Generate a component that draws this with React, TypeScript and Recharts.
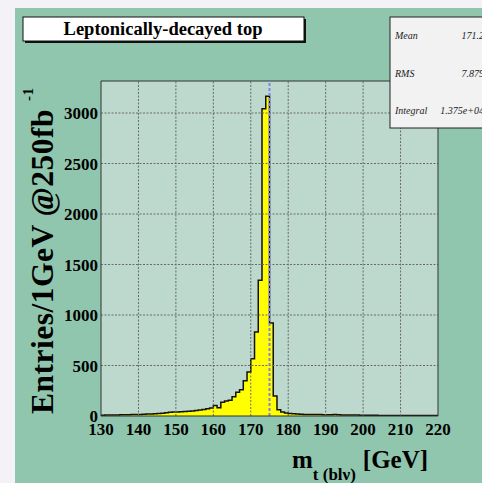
import React from "react";
import {
  ComposedChart,
  Area,
  XAxis,
  YAxis,
  CartesianGrid,
  ReferenceLine,
} from "recharts";

// ---- data ----
const BIN_START = 130; // GeV, lower edge of first bin
const BIN_WIDTH = 1; // GeV
const counts = [
  8, 9, 10, 10, 11, 12, 12, 13, 14, 15,
  16, 18, 19, 20, 22, 24, 27, 32, 38, 40,
  40, 42, 45, 48, 50, 55, 60, 64, 72, 78,
  105, 82, 135, 148, 155, 190, 235, 260, 350, 436,
  568, 832, 1343, 3043, 3165, 920, 198, 63, 40, 30,
  25, 22, 20, 18, 16, 16, 15, 14, 14, 13,
  12, 13, 15, 12, 11, 10, 10, 9, 9, 8,
  8, 7, 7, 7, 6, 6, 6, 6, 5, 5,
  5, 5, 5, 4, 4, 4, 4, 4, 4, 4,
];
const xMajorTicks = [130, 140, 150, 160, 170, 180, 190, 200, 210, 220];
const xMinorTicks = [
  130, 132, 134, 136, 138, 140, 142, 144, 146, 148, 150, 152, 154, 156, 158,
  160, 162, 164, 166, 168, 170, 172, 174, 176, 178, 180, 182, 184, 186, 188,
  190, 192, 194, 196, 198, 200, 202, 204, 206, 208, 210, 212, 214, 216, 218, 220,
];
const yMajorTicks = [0, 500, 1000, 1500, 2000, 2500, 3000];
const yMinorTicks = [
  0, 100, 200, 300, 400, 500, 600, 700, 800, 900, 1000, 1100, 1200, 1300,
  1400, 1500, 1600, 1700, 1800, 1900, 2000, 2100, 2200, 2300, 2400, 2500,
  2600, 2700, 2800, 2900, 3000, 3100, 3200, 3300,
];
const xDomain = [130, 220];
const yDomain = [0, 3317];
const topMassLine = 175;
const titleText = "Leptonically-decayed top";
const statNames = ["Mean", "RMS", "Integral"];
const statValues = ["171.2", "7.879", "1.375e+04"];

// histogram as step points (last edge repeats last value)
const histData = counts
  .map((v, i) => ({ x: BIN_START + i * BIN_WIDTH, v }))
  .concat([{ x: BIN_START + counts.length * BIN_WIDTH, v: counts[counts.length - 1] }]);

const SERIF = '"Liberation Serif", "Times New Roman", serif';
const FRAME = "#333";

export default function App() {
  const tickFont = { fontFamily: SERIF, fontWeight: 700, fontSize: 17, fill: "#000" };
  const statY = [38.5, 76.5, 114];
  return (
    <div
      style={{
        position: "fixed",
        left: 0,
        top: 0,
        width: 482,
        height: 483,
        background: "#f4f2f7",
        overflow: "hidden",
      }}
    >
      <div
        style={{
          position: "absolute",
          left: 15,
          top: 8,
          width: 467,
          height: 475,
          background: "#90c6ae",
        }}
      />
      <div style={{ position: "absolute", left: 0, top: 0 }}>
        <ComposedChart
          width={482}
          height={483}
          data={histData}
          margin={{ top: 81, right: 44, bottom: 37, left: 41 }}
        >
          <CartesianGrid
            xAxisId="x"
            yAxisId="y"
            fill="#bdd8cd"
            horizontal={false}
            vertical={false}
          />
          <XAxis
            xAxisId="x"
            dataKey="x"
            type="number"
            domain={xDomain}
            ticks={xMajorTicks}
            allowDataOverflow
            interval={0}
            height={30}
            tickLine={false}
            axisLine={false}
            tickSize={0}
            tickMargin={7}
            tick={tickFont}
          />
          <YAxis
            yAxisId="y"
            type="number"
            domain={yDomain}
            ticks={yMajorTicks}
            allowDataOverflow
            interval={0}
            width={60}
            tickLine={false}
            axisLine={false}
            tickSize={0}
            tickMargin={3}
            tick={tickFont}
          />
          <Area
            xAxisId="x"
            yAxisId="y"
            dataKey="v"
            type="stepAfter"
            baseValue={0}
            fill="#ffff00"
            fillOpacity={1}
            stroke="#111"
            strokeWidth={1.5}
            isAnimationActive={false}
            dot={false}
            activeDot={false}
          />
          {xMajorTicks.slice(1, -1).map((t) => (
            <ReferenceLine
              key={"gx" + t}
              xAxisId="x"
              yAxisId="y"
              x={t}
              stroke="#6a6a6a"
              strokeDasharray="2 1.5"
              strokeWidth={1}
            />
          ))}
          {yMajorTicks.slice(1).map((t) => (
            <ReferenceLine
              key={"gy" + t}
              xAxisId="x"
              yAxisId="y"
              y={t}
              stroke="#6a6a6a"
              strokeDasharray="2 1.5"
              strokeWidth={1}
            />
          ))}
          <ReferenceLine
            xAxisId="x"
            yAxisId="y"
            x={topMassLine}
            stroke="#8080f0"
            strokeWidth={2}
            strokeDasharray="3 2"
          />
          {/* frame with inward ticks */}
          <XAxis xAxisId="xbM" type="number" domain={xDomain} ticks={xMajorTicks} allowDataOverflow interval={0}
            mirror tick={false} tickSize={9} tickLine={{ stroke: FRAME }} axisLine={{ stroke: FRAME }} />
          <XAxis xAxisId="xbm" type="number" domain={xDomain} ticks={xMinorTicks} allowDataOverflow interval={0}
            mirror tick={false} tickSize={5} tickLine={{ stroke: FRAME }} axisLine={false} />
          <XAxis xAxisId="xtM" orientation="top" type="number" domain={xDomain} ticks={xMajorTicks} allowDataOverflow interval={0}
            mirror tick={false} tickSize={9} tickLine={{ stroke: FRAME }} axisLine={{ stroke: FRAME }} />
          <XAxis xAxisId="xtm" orientation="top" type="number" domain={xDomain} ticks={xMinorTicks} allowDataOverflow interval={0}
            mirror tick={false} tickSize={5} tickLine={{ stroke: FRAME }} axisLine={false} />
          <YAxis yAxisId="ylM" type="number" domain={yDomain} ticks={yMajorTicks} allowDataOverflow interval={0}
            mirror tick={false} tickSize={10} tickLine={{ stroke: FRAME }} axisLine={{ stroke: FRAME }} />
          <YAxis yAxisId="ylm" type="number" domain={yDomain} ticks={yMinorTicks} allowDataOverflow interval={0}
            mirror tick={false} tickSize={5} tickLine={{ stroke: FRAME }} axisLine={false} />
          <YAxis yAxisId="yrM" orientation="right" type="number" domain={yDomain} ticks={yMajorTicks} allowDataOverflow interval={0}
            mirror tick={false} tickSize={10} tickLine={{ stroke: FRAME }} axisLine={{ stroke: FRAME }} />
          <YAxis yAxisId="yrm" orientation="right" type="number" domain={yDomain} ticks={yMinorTicks} allowDataOverflow interval={0}
            mirror tick={false} tickSize={5} tickLine={{ stroke: FRAME }} axisLine={false} />
        </ComposedChart>
      </div>
      <svg
        width={482}
        height={483}
        style={{ position: "absolute", left: 0, top: 0, pointerEvents: "none" }}
      >
        {/* title box */}
        <rect x={25} y={19} width={281} height={24} fill="#111" />
        <rect x={23} y={17} width={281} height={24} fill="#fff" stroke="#111" strokeWidth={1} />
        <text
          x={163}
          y={34.5}
          textAnchor="middle"
          fontFamily={SERIF}
          fontWeight={700}
          fontSize={18.5}
          fill="#000"
        >
          {titleText}
        </text>
        {/* stats box */}
        <rect x={390} y={17} width={100} height={111} fill="#f2f2f2" stroke="#222" strokeWidth={1} />
        {statNames.map((n, i) => (
          <text key={n} x={395} y={statY[i]} fontFamily={SERIF} fontStyle="italic" fontSize={10} fill="#222">
            {n}
          </text>
        ))}
        {statValues.map((v, i) => (
          <text key={v} x={484} y={statY[i]} textAnchor="end" fontFamily={SERIF} fontStyle="italic" fontSize={10} fill="#222">
            {v}
          </text>
        ))}
        {/* y-axis title */}
        <text
          x={53}
          y={414}
          transform="rotate(-90 53 414)"
          fontFamily={SERIF}
          fontWeight={700}
          fontSize={31.5}
          letterSpacing={0.5}
          fill="#000"
        >
          Entries/1GeV @250fb
          <tspan dx={8} dy={-20} fontSize={15}>
            -1
          </tspan>
        </text>
        {/* x-axis title */}
        <text x={292} y={468} fontFamily={SERIF} fontWeight={700} fontSize={25} fill="#000">
          m
          <tspan dy={12} fontSize={17}>
            t (blν)
          </tspan>
          <tspan dx={7} dy={-12} fontSize={25}>
            [GeV]
          </tspan>
        </text>
      </svg>
    </div>
  );
}
